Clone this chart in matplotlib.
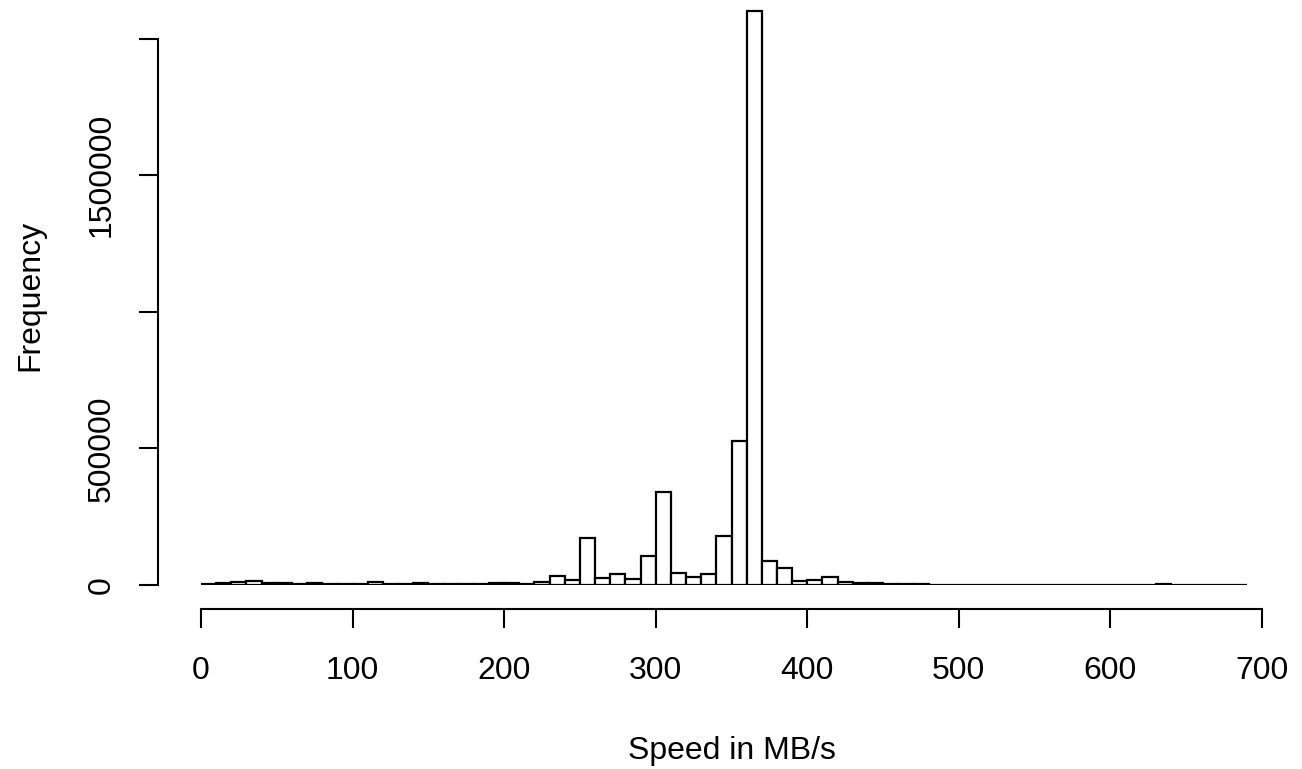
"""Histogram of transfer speeds, drawn in the style of base-R hist()."""

import numpy as np
import matplotlib

matplotlib.use("Agg")
import matplotlib.pyplot as plt

# counts per 10 MB/s bin (0-10, 10-20, ..., 680-690)
counts = [
    2000, 7000, 10000, 14000, 8000, 6000, 3000, 6000, 2000, 3000,
    3000, 11000, 3000, 4000, 6000, 3000, 2000, 3000, 5000, 7000,
    8000, 5000, 10000, 34000, 18000, 173000, 24500, 40000, 22000, 106000,
    339500, 43000, 30500, 41500, 180500, 528500, 2099000, 89000, 61000, 16000,
    17000, 30500, 12000, 8000, 7000, 4000, 3000, 2000, 1500, 1500,
    1000, 900, 800, 800, 800, 800, 800, 800, 800, 800,
    800, 800, 1800, 2000, 800, 600, 600, 600, 600,
]
bin_width = 10
x_ticks = [0, 100, 200, 300, 400, 500, 600, 700]
y_ticks = [0, 500000, 1000000, 1500000, 2000000]
y_ticklabels = ["0", "500000", "", "1500000", ""]

W, H, DPI = 1302, 769, 100
plt.rcParams["font.family"] = ["Liberation Sans", "DejaVu Sans"]
plt.rcParams["font.size"] = 23

fig = plt.figure(figsize=(W / DPI, H / DPI), dpi=DPI)
# data x 0..700 -> px 201..1262 ; y baseline at px 585
y_top = 2.12e6
px_per_unit = (585 - 38.5) / 2e6
top_px = 585 - y_top * px_per_unit
ax = fig.add_axes([201 / W, (H - 585) / H, (1262 - 201) / W, (585 - top_px) / H])

lefts = np.arange(len(counts)) * bin_width
ax.bar(lefts, counts, width=bin_width, align="edge",
       facecolor="white", edgecolor="black", linewidth=1.6)

ax.set_xlim(0, 700)
ax.set_ylim(0, y_top)

for side in ("top", "right"):
    ax.spines[side].set_visible(False)
px_to_pt = 72 / DPI
ax.spines["left"].set_position(("outward", (201 - 158) * px_to_pt))
ax.spines["bottom"].set_position(("outward", (609 - 585) * px_to_pt))
ax.spines["left"].set_bounds(0, 2000000)
ax.spines["bottom"].set_bounds(0, 700)
for side in ("left", "bottom"):
    ax.spines[side].set_linewidth(1.5)

ax.set_xticks(x_ticks)
ax.set_xticklabels([str(t) for t in x_ticks])
ax.set_yticks(y_ticks)
ax.set_yticklabels(y_ticklabels, rotation=90, va="center")
ax.tick_params(length=13.7, width=1.5)
ax.tick_params(axis="x", pad=20)
ax.tick_params(axis="y", pad=16)

ax.set_xlabel("Speed in MB/s", labelpad=36)
ax.set_ylabel("Frequency", labelpad=30)

fig.savefig("out.png", dpi=DPI)
